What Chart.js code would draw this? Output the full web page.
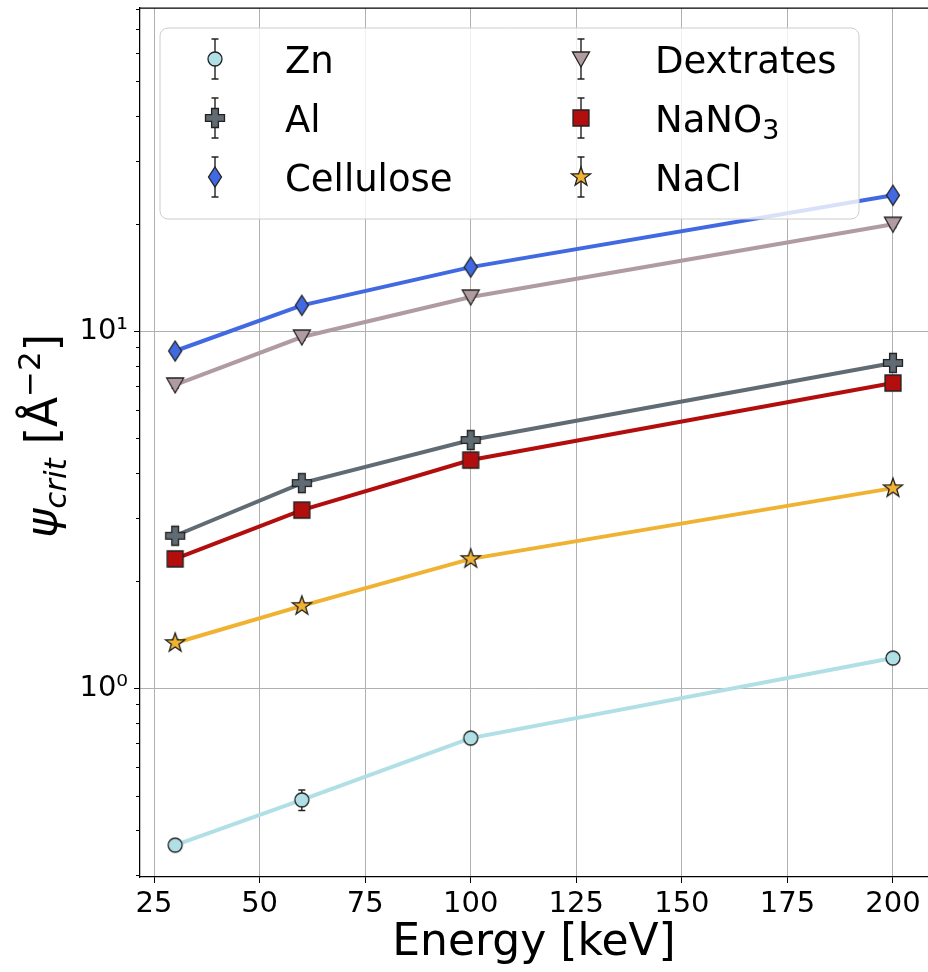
<!DOCTYPE html>
<html>
<head>
<meta charset="utf-8">
<script src="https://cdn.jsdelivr.net/npm/chart.js@4.4.1/dist/chart.umd.min.js"></script>
<style>
  body { margin: 0; background: #fff; }
  canvas { display: block; }
</style>
</head>
<body>
<canvas id="myChart" width="928" height="972"></canvas>
<script>
const energies = [30, 60, 100, 200];
const xTicks = [25, 50, 75, 100, 125, 150, 175, 200];
const yMajor = [1, 10];
const yMinor = [0.3, 0.4, 0.5, 0.6, 0.7, 0.8, 0.9, 2, 3, 4, 5, 6, 7, 8, 9, 20, 30, 40, 50, 60, 70, 80];

const zn = [0.363, 0.486, 0.724, 1.213];
const al = [2.67, 3.75, 4.95, 8.14];
const cellulose = [8.79, 11.8, 15.1, 24.0];
const dextrates = [7.06, 9.62, 12.45, 19.9];
const nano3 = [2.30, 3.15, 4.35, 7.15];
const nacl = [1.337, 1.698, 2.30, 3.63];

const znErr = [0.006, 0.032, 0.012, 0.015];
const alErr = [0.06, 0.08, 0.10, 0.15];
const celluloseErr = [0.2, 0.25, 0.3, 0.5];
const dextratesErr = [0.15, 0.2, 0.25, 0.4];
const nano3Err = [0.05, 0.07, 0.09, 0.14];
const naclErr = [0.03, 0.035, 0.045, 0.07];

const FONT = "'DejaVu Sans', sans-serif";
const EDGE = '#222222';

function makeMarker(shape, fill) {
    const c = document.createElement('canvas');
    c.width = 26;
    c.height = 26;
    const g = c.getContext('2d');
    g.translate(13, 13);
    g.beginPath();
    if (shape === 'circle') {
        g.arc(0, 0, 7, 0, Math.PI * 2);
    } else if (shape === 'plus') {
        const a = 9.5, t = 3.4;
        g.moveTo(-t, -a); g.lineTo(t, -a); g.lineTo(t, -t); g.lineTo(a, -t);
        g.lineTo(a, t); g.lineTo(t, t); g.lineTo(t, a); g.lineTo(-t, a);
        g.lineTo(-t, t); g.lineTo(-a, t); g.lineTo(-a, -t); g.lineTo(-t, -t);
        g.closePath();
    } else if (shape === 'diamond') {
        g.moveTo(0, -10); g.lineTo(6.5, 0); g.lineTo(0, 10); g.lineTo(-6.5, 0);
        g.closePath();
    } else if (shape === 'triangleDown') {
        g.moveTo(-8.5, -7); g.lineTo(8.5, -7); g.lineTo(0, 8);
        g.closePath();
    } else if (shape === 'square') {
        g.rect(-8, -8, 16, 16);
    } else if (shape === 'star') {
        for (let i = 0; i < 10; i++) {
            const r = i % 2 === 0 ? 10 : 4;
            const ang = -Math.PI / 2 + i * Math.PI / 5;
            const px = r * Math.cos(ang), py = r * Math.sin(ang);
            if (i === 0) g.moveTo(px, py); else g.lineTo(px, py);
        }
        g.closePath();
    }
    g.fillStyle = fill;
    g.fill();
    g.lineWidth = 1.3;
    g.strokeStyle = EDGE;
    g.lineJoin = 'miter';
    g.stroke();
    return c;
}

const series = [
    { label: 'Zn', values: zn, err: znErr, color: '#b0e0e6', marker: makeMarker('circle', '#b0e0e6') },
    { label: 'Al', values: al, err: alErr, color: '#616b73', marker: makeMarker('plus', '#616b73') },
    { label: 'Cellulose', values: cellulose, err: celluloseErr, color: '#4169e1', marker: makeMarker('diamond', '#4169e1') },
    { label: 'Dextrates', values: dextrates, err: dextratesErr, color: '#b09ca0', marker: makeMarker('triangleDown', '#b09ca0') },
    { label: 'NaNO3', values: nano3, err: nano3Err, color: '#b30e0e', marker: makeMarker('square', '#b30e0e') },
    { label: 'NaCl', values: nacl, err: naclErr, color: '#f0b232', marker: makeMarker('star', '#f0b232') }
];

function drawErrorBar(ctx, x, yTop, yBot) {
    ctx.beginPath();
    ctx.moveTo(x, yTop); ctx.lineTo(x, yBot);
    ctx.moveTo(x - 3.5, yTop); ctx.lineTo(x + 3.5, yTop);
    ctx.moveTo(x - 3.5, yBot); ctx.lineTo(x + 3.5, yBot);
    ctx.stroke();
}

const errorBars = {
    id: 'errorBars',
    beforeDatasetsDraw(chart) {
        const ctx = chart.ctx;
        const xs = chart.scales.x, ys = chart.scales.y;
        ctx.save();
        ctx.strokeStyle = EDGE;
        ctx.lineWidth = 1.4;
        series.forEach(s => {
            s.values.forEach((v, j) => {
                const x = xs.getPixelForValue(energies[j]);
                drawErrorBar(ctx, x, ys.getPixelForValue(v + s.err[j]), ys.getPixelForValue(v - s.err[j]));
            });
        });
        ctx.restore();
    }
};

function drawSegments(ctx, segs, x, y) {
    let cx = x;
    segs.forEach(s => {
        ctx.font = s.font;
        ctx.fillText(s.text, cx, y + s.dy);
        cx += ctx.measureText(s.text).width;
    });
    return cx;
}

function segWidth(ctx, segs) {
    let w = 0;
    segs.forEach(s => { ctx.font = s.font; w += ctx.measureText(s.text).width; });
    return w;
}

const extras = {
    id: 'extras',
    afterDraw(chart) {
        const ctx = chart.ctx;
        const area = chart.chartArea;
        const ys = chart.scales.y;
        ctx.save();

        // top spine and minor y ticks
        ctx.strokeStyle = '#000';
        ctx.lineWidth = 1.25;
        ctx.beginPath();
        ctx.moveTo(area.left, area.top); ctx.lineTo(area.right, area.top);
        ctx.stroke();
        ctx.lineWidth = 1;
        ctx.beginPath();
        yMinor.forEach(v => {
            const y = Math.round(ys.getPixelForValue(v)) + 0.5;
            ctx.moveTo(area.left - 4, y); ctx.lineTo(area.left, y);
        });
        ctx.stroke();

        // y axis title
        ctx.fillStyle = '#000';
        ctx.textBaseline = 'alphabetic';
        ctx.textAlign = 'left';
        const title = [
            { text: 'ψ', font: 'italic 44px ' + FONT, dy: 0 },
            { text: 'crit', font: 'italic 31px ' + FONT, dy: 9 },
            { text: ' [Å', font: '44px ' + FONT, dy: 0 },
            { text: '−2', font: '31px ' + FONT, dy: -17 },
            { text: ']', font: '44px ' + FONT, dy: 0 }
        ];
        ctx.save();
        ctx.translate(57, 436);
        ctx.rotate(-Math.PI / 2);
        drawSegments(ctx, title, -segWidth(ctx, title) / 2, 0);
        ctx.restore();

        // legend
        const bx = 160, by = 28, bw = 699, bh = 191;
        ctx.beginPath();
        ctx.roundRect(bx, by, bw, bh, 8);
        ctx.fillStyle = 'rgba(255,255,255,0.8)';
        ctx.fill();
        ctx.strokeStyle = '#cccccc';
        ctx.lineWidth = 1;
        ctx.stroke();

        const rows = [59, 118, 177];
        const cols = [{ mx: 215, tx: 285 }, { mx: 581, tx: 655 }];
        series.forEach((s, i) => {
            const col = cols[Math.floor(i / 3)];
            const ry = rows[i % 3];
            ctx.strokeStyle = EDGE;
            ctx.lineWidth = 1.4;
            drawErrorBar(ctx, col.mx, ry - 20, ry + 20);
            ctx.drawImage(s.marker, col.mx - s.marker.width / 2, ry - s.marker.height / 2);
            ctx.fillStyle = '#000';
            if (s.label === 'NaNO3') {
                drawSegments(ctx, [
                    { text: 'NaNO', font: '37px ' + FONT, dy: 0 },
                    { text: '3', font: '27px ' + FONT, dy: 7 }
                ], col.tx, ry + 14);
            } else {
                ctx.font = '37px ' + FONT;
                ctx.fillText(s.label, col.tx, ry + 14);
            }
        });
        ctx.restore();
    }
};

function renderChart() {
    const ctx = document.getElementById('myChart').getContext('2d');
    new Chart(ctx, {
        type: 'line',
        data: {
            datasets: series.map(s => ({
                label: s.label,
                data: s.values.map((v, j) => ({ x: energies[j], y: v })),
                borderColor: s.color,
                borderWidth: 4,
                pointStyle: s.marker,
                pointRadius: 9,
                tension: 0,
                fill: false
            }))
        },
        options: {
            responsive: false,
            animation: false,
            devicePixelRatio: 1,
            layout: { autoPadding: false, padding: { top: 8, left: 0, right: 0, bottom: 0 } },
            plugins: {
                legend: { display: false },
                tooltip: { enabled: false }
            },
            scales: {
                x: {
                    type: 'linear',
                    min: 21.68,
                    max: 208.29,
                    afterBuildTicks: axis => { axis.ticks = xTicks.map(v => ({ value: v })); },
                    afterFit: scale => {
                        scale.height = 95;
                        scale.paddingLeft = 0;
                        scale.paddingRight = 0;
                    },
                    grid: { color: '#b0b0b0', lineWidth: 1, tickLength: 6, tickColor: '#000' },
                    border: { display: true, color: '#000', width: 1.25 },
                    ticks: { color: '#000', font: { family: FONT, size: 29 }, padding: 4, maxRotation: 0 },
                    title: {
                        display: true,
                        text: 'Energy [keV]',
                        color: '#000',
                        font: { family: FONT, size: 44 },
                        padding: { top: 0, bottom: 2 }
                    }
                },
                y: {
                    type: 'logarithmic',
                    min: 0.2956,
                    max: 80.3,
                    afterBuildTicks: axis => {
                        axis.ticks = yMajor.map(v => ({ value: v, major: true }));
                    },
                    afterFit: scale => {
                        scale.width = 140;
                        scale.paddingTop = 0;
                        scale.paddingBottom = 0;
                    },
                    grid: { color: '#b0b0b0', lineWidth: 1, tickLength: 6, tickColor: '#000' },
                    border: { display: true, color: '#000', width: 1.25 },
                    ticks: {
                        color: '#000',
                        font: { family: FONT, size: 29 },
                        padding: 6,
                        callback: v => (v === 1 ? '10⁰' : v === 10 ? '10¹' : '')
                    }
                }
            }
        },
        plugins: [errorBars, extras]
    });
}

renderChart();
</script>
</body>
</html>
